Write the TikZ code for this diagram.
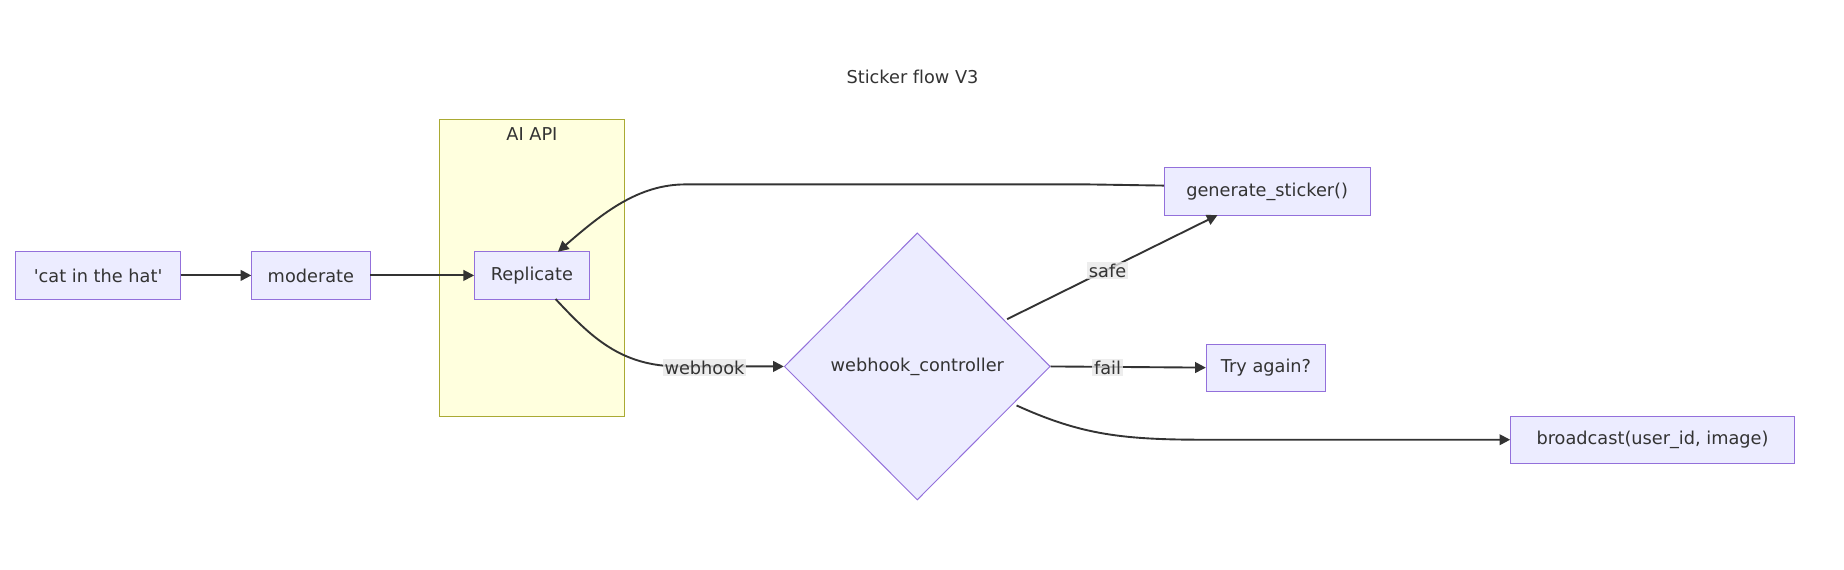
\documentclass[tikz,border=0pt]{standalone}
\usepackage{fontspec}
\setmainfont[Ligatures=NoCommon]{DejaVu Sans}
\usetikzlibrary{arrows.meta,shapes.geometric}
\definecolor{nfill}{HTML}{ECECFF}
\definecolor{nline}{HTML}{9370DB}
\definecolor{cfill}{HTML}{FFFFDE}
\definecolor{cline}{HTML}{AAAA33}
\definecolor{ink}{HTML}{333333}
\definecolor{lbg}{HTML}{E8E8E8}
\begin{document}
\begin{tikzpicture}[x=1pt,y=-1pt,
  every node/.style={font=\fontsize{15}{18}\selectfont, text=ink},
  box/.style={draw=nline, fill=nfill, line width=0.8pt, minimum height=40pt, inner xsep=5pt},
  edge/.style={draw=ink, line width=1.6pt, -{Triangle[length=9pt,width=9pt]}},
  lab/.style={fill=lbg, fill opacity=0.8, text opacity=1, inner sep=1.5pt}]
\useasboundingbox (0,0) rectangle (1560,482);
\node (title) at (772,65) {Sticker flow V3};
\draw[draw=cline, fill=cfill, line width=0.8pt] (372,101) rectangle (528,352);
\node (ai) at (450,113) {AI API};
\node[box, minimum width=139pt] (cat) at (83,233) {\textquotesingle cat in the hat\textquotesingle};
\node[box, minimum width=100pt] (mod) at (263,233) {moderate};
\node[box, minimum width=97pt] (rep) at (450,233) {Replicate};
\node[diamond, draw=nline, fill=nfill, line width=0.8pt, minimum width=225pt, minimum height=226pt, inner sep=0pt] (wc) at (776,310) {webhook\_controller};
\node[box, minimum width=174pt] (gen) at (1072,162) {generate\_sticker()};
\node[box, minimum width=101pt] (try) at (1071,311) {Try again?};
\node[box, minimum width=240pt] (bc) at (1398,372) {broadcast(user\_id, image)};
\draw[edge] (cat) -- (mod);
\draw[edge] (mod) -- (rep);
\draw[edge] (gen.west |- 0,157) -- (920,156) -- (580,156) .. controls (540,156) and (510,180) .. (472,213);
\draw[edge] (470,253) .. controls (500,285) and (525,310) .. (575,310) -- (wc.west);
\node[lab] (l1) at (596,311) {webhook};
\draw[edge] (852,270) -- (1030,182);
\node[lab] (l2) at (937,229) {safe};
\draw[edge] (wc.east) -- (try.west);
\node[lab] (l3) at (937,311) {fail};
\draw[edge] (860,343) .. controls (915,368) and (950,372) .. (1020,372) -- (bc.west);
\end{tikzpicture}
\end{document}
